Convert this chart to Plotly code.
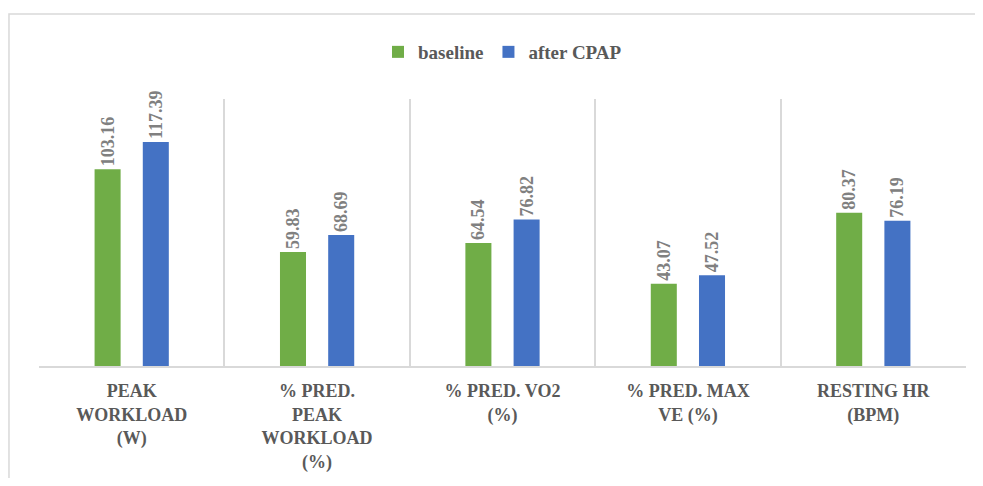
import plotly.graph_objects as go

categories = [
    "PEAK<br>WORKLOAD<br>(W)",
    "% PRED.<br>PEAK<br>WORKLOAD<br>(%)",
    "% PRED. VO2<br>(%)",
    "% PRED. MAX<br>VE (%)",
    "RESTING HR<br>(BPM)",
]
baseline = [103.16, 59.83, 64.54, 43.07, 80.37]
after_cpap = [117.39, 68.69, 76.82, 47.52, 76.19]

GREEN = "#70AD47"
BLUE = "#4472C4"
FONT = "Liberation Serif"

fig = go.Figure()
for name, vals, col in [("baseline", baseline, GREEN), ("after CPAP", after_cpap, BLUE)]:
    fig.add_trace(go.Bar(
        name=name, x=categories, y=vals, marker_color=col, marker_line_width=0,
        text=[f"{v:.2f}" for v in vals], textposition="outside", textangle=-90,
        constraintext="none",
        textfont=dict(family=FONT, size=18, color="#808080", weight="bold"),
        cliponaxis=False,
    ))

fig.update_layout(
    width=975, height=470,
    margin=dict(l=31, r=17, t=91, b=112),
    paper_bgcolor="white", plot_bgcolor="white",
    barmode="group", bargap=0.48, bargroupgap=0.46,
    font=dict(family=FONT, color="#595959"),
    legend=dict(orientation="h", x=0.5, xanchor="center", y=1.176, yanchor="middle",
                font=dict(family=FONT, size=19, color="#595959", weight="bold"),
                itemwidth=30, traceorder="normal"),
    xaxis=dict(tickson="boundaries", showgrid=True, gridcolor="#D9D9D9", gridwidth=1.5,
               showline=True, linecolor="#D9D9D9", linewidth=1.5, ticks="",
               tickfont=dict(family=FONT, size=18, color="#595959", weight="bold"),
               ticklabelstandoff=8, automargin=False, tickangle=0, mirror=False),
    yaxis=dict(range=[0, 140], visible=False, showgrid=False),
    shapes=[dict(type="rect", xref="paper", yref="paper", x0=-0.0324, x1=1.05, y0=-0.6, y1=1.318,
                 line=dict(color="#D9D9D9", width=1.5), fillcolor="rgba(0,0,0,0)", layer="below")],
)

fig.write_html("out.html")
